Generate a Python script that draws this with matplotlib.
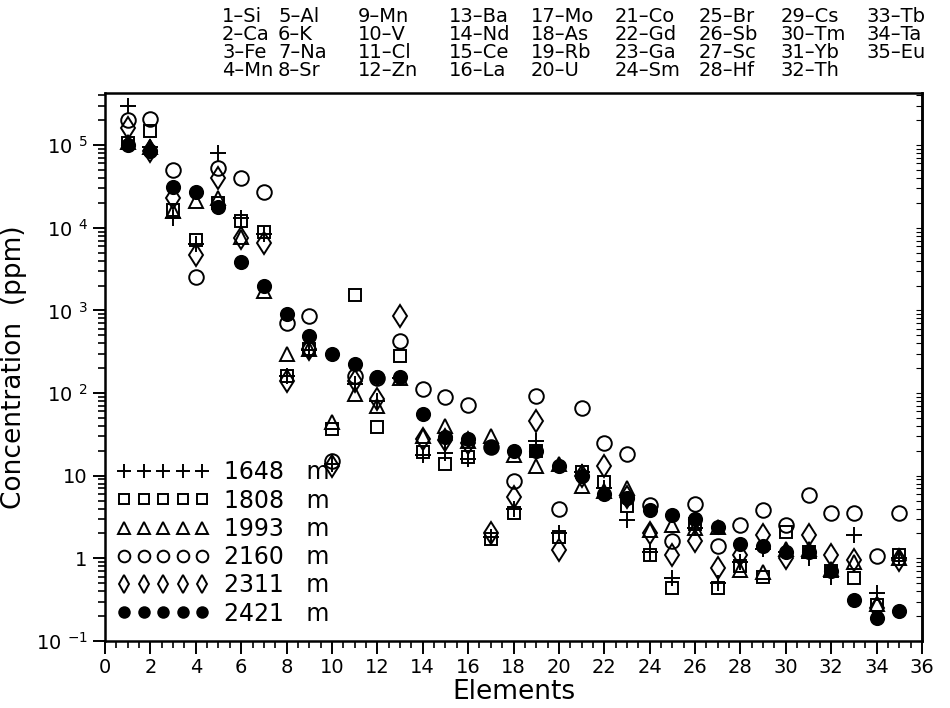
import numpy as np
import matplotlib.pyplot as plt
from matplotlib.ticker import FixedLocator, LogLocator, MultipleLocator, NullFormatter

plt.rcParams['font.family'] = ['DejaVu Sans']
plt.rcParams['mathtext.default'] = 'regular'

# element index -> symbol, as printed in the header
elements = ['Si', 'Ca', 'Fe', 'Mn', 'Al', 'K', 'Na', 'Sr', 'Mn', 'V', 'Cl', 'Zn',
            'Ba', 'Nd', 'Ce', 'La', 'Mo', 'As', 'Rb', 'U', 'Co', 'Gd', 'Ga', 'Sm',
            'Br', 'Sb', 'Sc', 'Hf', 'Cs', 'Tm', 'Yb', 'Th', 'Tb', 'Ta', 'Eu']
element_no = np.arange(1, 36)

depths = ['1648', '1808', '1993', '2160', '2311', '2421']

# concentrations (ppm) per depth, elements 1..35
c1648 = [3.0e5, 9.5e4, 1.3e4, 6.3e3, 8.0e4, 1.3e4, 8.5e3, 160, 330, 14, 130, 80,
         150, 18, 18.6, 16, 1.8, 4.0, 26, 2.0, 11, 7, 2.9, 1.2,
         0.58, 2.3, 0.5, 0.9, 1.3, 1.2, 1.0, 0.6, 1.9, 0.38, 1.0]
c1808 = [1.05e5, 1.5e5, 1.65e4, 7.2e3, 2.0e4, 1.2e4, 8.9e3, 160, 340, 37, 1550, 39,
         280, 19.6, 14, 17, 1.7, 3.5, 20, 1.8, 11.2, 8.5, 4.3, 1.1,
         0.44, 2.6, 0.44, 0.8, 0.6, 2.1, 1.2, 0.7, 0.58, 0.27, 1.1]
c1993 = [1.1e5, 9.5e4, 1.6e4, 2.1e4, 2.3e4, 7.8e3, 1.7e3, 300, 340, 45, 98, 70,
         150, 30, 40, 26, 30, 18, 13, 14, 7.4, 6.5, 7, 2.2,
         2.5, 2.3, 2.4, 0.72, 0.68, 1.3, 1.3, 0.75, 0.9, 0.28, 1.0]
c2160 = [2.0e5, 2.05e5, 5.0e4, 2.5e3, 5.3e4, 4.0e4, 2.7e4, 700, 850, 15, 160, 150,
         430, 112, 90, 72, 22, 8.7, 92, 4.0, 66, 25, 18.5, 4.4,
         1.6, 4.6, 1.4, 2.5, 3.8, 2.5, 5.8, 3.5, 3.5, 1.07, 3.5]
c2311 = [1.6e5, 8.5e4, 2.3e4, 4.7e3, 4.0e4, 7.5e3, 6.6e3, 140, 340, 13, 140, 85,
         860, 28, 27, 25, 2.0, 5.6, 46, 1.26, 10, 13, 5.5, 2.0,
         1.1, 1.6, 0.76, 1.1, 1.9, 1.0, 1.9, 1.1, 0.95, 0.25, 0.95]
c2421 = [1.0e5, 8.5e4, 3.1e4, 2.7e4, 1.8e4, 3.9e3, 2.0e3, 900, 490, 295, 225, 155,
         155, 56, 29, 28, 22, 20, 20, 13, 10, 6.0, 5.3, 3.8,
         3.3, 3.0, 2.4, 1.5, 1.4, 1.2, 1.2, 0.7, 0.31, 0.19, 0.23]

series = [c1648, c1808, c1993, c2160, c2311, c2421]
markers = ['+', 's', '^', 'o', 'd', 'o']
sizes = [12, 9, 10, 10.5, 11.5, 9.5]
fills = ['none', 'none', 'none', 'none', 'none', 'black']

fig = plt.figure(figsize=(9.5, 7.08), dpi=100)
ax = fig.add_axes([105 / 950, 67 / 708, 817 / 950, 548 / 708])

handles = []
for vals, d, m, s, f in zip(series, depths, markers, sizes, fills):
    h, = ax.plot(element_no, vals, linestyle='none', marker=m, markersize=s,
                 markerfacecolor=f, markeredgecolor='black', markeredgewidth=1.4,
                 color='black', label=f'{d}   m')
    handles.append(h)

ax.set_yscale('log')
ax.set_ylim(0.1, 10 ** 5.63)
ax.set_xlim(0, 36)

ax.xaxis.set_major_locator(MultipleLocator(2))
ax.xaxis.set_minor_locator(MultipleLocator(0.5))
ax.yaxis.set_major_locator(FixedLocator([0.1, 1, 10, 100, 1e3, 1e4, 1e5]))
ax.yaxis.set_minor_locator(LogLocator(base=10, subs=np.arange(2, 10)))
ax.yaxis.set_minor_formatter(NullFormatter())
ax.set_yticklabels(['10 $^{-1}$', '1', '10', '10 $^{2}$', '10 $^{3}$', '10 $^{4}$', '10 $^{5}$'])

ax.tick_params(axis='both', which='major', direction='out', length=9, width=1.4,
               labelsize=14, color='black')
ax.tick_params(axis='both', which='minor', direction='out', length=5, width=1.2)
ax.tick_params(axis='x', pad=3)
for sp in ax.spines.values():
    sp.set_linewidth(1.8)

# faint inner ticks on the right frame
ax_r = ax.secondary_yaxis('right')
ax_r.yaxis.set_major_locator(FixedLocator([0.1, 1, 10, 100, 1e3, 1e4, 1e5]))
ax_r.yaxis.set_minor_locator(LogLocator(base=10, subs=np.arange(2, 10)))
ax_r.tick_params(which='both', direction='in', length=4, width=0.8,
                 labelright=False)
ax_r.spines['right'].set_linewidth(1.8)

ax.set_xlabel('Elements', fontsize=19, labelpad=2)
ax.set_ylabel('Concentration  (ppm)', fontsize=19, labelpad=6)

ax.legend(handles=handles, loc='lower left', bbox_to_anchor=(0.015, 0.028),
          numpoints=5, handlelength=3.9, handletextpad=0.6, markerscale=0.8,
          labelspacing=0.18, fontsize=17, frameon=False, borderpad=0,
          borderaxespad=0)

# element key above the plot, four per column
col_x = [222, 278, 358, 449, 531, 615, 699, 781, 867]
row_y = [17, 35, 53, 71]
for i, (n, el) in enumerate(zip(element_no, elements)):
    col, row = divmod(i, 4)
    fig.text(col_x[col] / 950, 1 - row_y[row] / 708, f'{n}\u2013{el}',
             fontsize=14, va='center', ha='left')

fig.savefig('out.png', dpi=100)
